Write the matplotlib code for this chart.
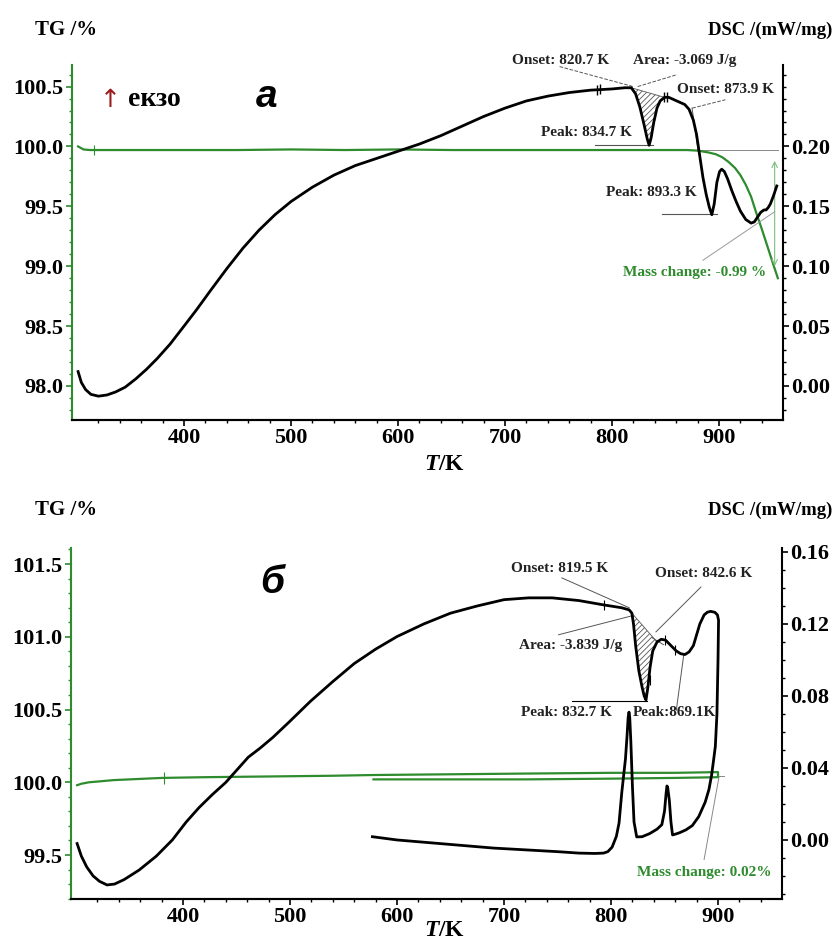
import numpy as np
import matplotlib
matplotlib.use('Agg')
import matplotlib.pyplot as plt
from matplotlib.ticker import FixedLocator, MultipleLocator, FormatStrFormatter

plt.rcParams['font.family'] = ['Liberation Serif', 'DejaVu Sans']
plt.rcParams['font.weight'] = 'bold'
plt.rcParams['mathtext.fontset'] = 'custom'
plt.rcParams['mathtext.it'] = 'Liberation Serif:italic:bold'
plt.rcParams['mathtext.rm'] = 'Liberation Serif:bold'
plt.rcParams['hatch.linewidth'] = 0.6
plt.rcParams['hatch.color'] = '#555555'

GREEN = '#2e8b2e'
LGREEN = '#7fbf7f'
GRAY = '#555555'

# ---------------- data: panel a ----------------
top_dsc_T = [301, 304, 308, 313, 320, 328, 336, 345, 355, 365,
             375, 387, 400, 412, 425, 440, 455, 470, 485, 500,
             520, 540, 560, 580, 600, 620, 640, 660, 680, 700,
             720, 740, 760, 780, 800, 812, 818, 822, 826, 830,
             833, 834.7, 836.5, 839, 842, 845, 849, 853, 858, 863,
             868, 872, 876, 879, 882, 885, 888, 891, 893.3, 895.5,
             898, 900.5, 902.5, 905, 908, 912, 916, 920, 925, 930,
             933, 936, 939, 942, 944, 946, 948, 951, 954]
top_dsc = [0.012, 0.003, -0.003, -0.007, -0.0085, -0.0075, -0.005, -0.001, 0.006, 0.014,
           0.023, 0.035, 0.050, 0.064, 0.080, 0.098, 0.115, 0.130, 0.143, 0.154,
           0.166, 0.176, 0.184, 0.190, 0.196, 0.202, 0.209, 0.217, 0.225, 0.232,
           0.238, 0.242, 0.245, 0.247, 0.248, 0.249, 0.249, 0.244, 0.233, 0.218,
           0.206, 0.201, 0.207, 0.220, 0.232, 0.238, 0.241, 0.241, 0.239, 0.237,
           0.235, 0.231, 0.222, 0.210, 0.192, 0.174, 0.160, 0.149, 0.143, 0.152,
           0.170, 0.179, 0.181, 0.179, 0.173, 0.163, 0.154, 0.146, 0.139, 0.136,
           0.137, 0.141, 0.145, 0.147, 0.147, 0.149, 0.152, 0.159, 0.167]
top_tg_T = [301, 303, 306, 312, 350, 400, 450, 500, 550, 600,
            650, 700, 750, 800, 850, 870, 880, 890, 897, 903,
            909, 915, 920, 925, 930, 935, 940, 944, 948, 952, 955]
top_tg = [100.0, 99.99, 99.975, 99.97, 99.97, 99.97, 99.97, 99.975, 99.97, 99.975,
          99.97, 99.97, 99.97, 99.97, 99.97, 99.97, 99.965, 99.95, 99.935, 99.91,
          99.87, 99.82, 99.76, 99.68, 99.58, 99.44, 99.31, 99.2, 99.09, 98.98, 98.9]

# ---------------- data: panel б ----------------
bot_heat_T = [301, 305, 310, 316, 322, 329, 336, 345, 359, 375,
              390, 403, 415, 427, 440, 452, 461, 472, 484, 500,
              519, 540, 560, 580, 600, 625, 650, 675, 700, 723,
              745, 770, 793, 810, 817, 819.5, 821, 823, 826, 829,
              831, 832.7, 834.5, 836.5, 839, 843, 847, 851, 856, 861,
              865, 869.1, 873, 877, 880, 883, 887, 890, 893, 897,
              899.5, 900.5]
bot_heat_dsc = [-0.002, -0.009, -0.015, -0.020, -0.023, -0.025, -0.0245, -0.022, -0.0167, -0.009,
                0.000, 0.010, 0.018, 0.025, 0.032, 0.040, 0.046, 0.051, 0.057, 0.066,
                0.077, 0.088, 0.098, 0.106, 0.113, 0.120, 0.126, 0.130, 0.1335, 0.1345,
                0.1345, 0.133, 0.1306, 0.129, 0.1278, 0.126, 0.120, 0.108, 0.094, 0.085,
                0.080, 0.0778, 0.085, 0.096, 0.105, 0.110, 0.1115, 0.111, 0.108, 0.105,
                0.1035, 0.103, 0.1045, 0.108, 0.114, 0.120, 0.125, 0.1265, 0.127, 0.1265,
                0.125, 0.122]
bot_cool_T = [900, 899, 897.5, 896, 894, 891.5, 888, 882, 876, 870,
              864, 860, 857.5, 856, 854.5, 853, 852.3, 851.5, 850, 847.5,
              843, 836, 829, 824, 821.5, 820, 818.5, 817.5, 816.8, 816,
              815, 813.5, 812, 810, 807.5, 805, 801, 797, 793, 785,
              770, 750, 720, 690, 660, 630, 600, 577]
bot_cool_dsc = [0.100, 0.070, 0.052, 0.045, 0.036, 0.028, 0.021, 0.013, 0.008, 0.0056,
                0.0040, 0.0032, 0.0028, 0.010, 0.022, 0.029, 0.030, 0.026, 0.016, 0.0085,
                0.0060, 0.0035, 0.0018, 0.0017, 0.010, 0.030, 0.055, 0.068, 0.071, 0.068,
                0.058, 0.045, 0.037, 0.026, 0.0094, 0.002, -0.004, -0.0065, -0.0073, -0.0075,
                -0.0073, -0.0065, -0.0055, -0.0045, -0.003, -0.0015, 0.0000, 0.0018]
bot_tg_heat_T = [301, 305, 312, 320, 335, 350, 380, 420, 480, 540, 578, 650, 720, 800, 860, 900]
bot_tg_heat = [99.98, 99.99, 100.0, 100.005, 100.015, 100.02, 100.03, 100.035, 100.04, 100.045,
               100.05, 100.055, 100.06, 100.065, 100.065, 100.07]
bot_tg_cool_T = [900, 860, 800, 720, 650, 578]
bot_tg_cool = [100.035, 100.03, 100.025, 100.02, 100.02, 100.02]

x_major = [400, 500, 600, 700, 800, 900]
top_tg_ticks = [98.0, 98.5, 99.0, 99.5, 100.0, 100.5]
top_dsc_ticks = [0.00, 0.05, 0.10, 0.15, 0.20]
bot_tg_ticks = [99.5, 100.0, 100.5, 101.0, 101.5]
bot_dsc_ticks = [0.00, 0.04, 0.08, 0.12, 0.16]

XLIM = (295.3, 959.8)
TICKFS = 16

fig = plt.figure(figsize=(8.34, 9.5), dpi=100)


def make_panel(rect, tg_lim, dsc_lim, tg_ticks, dsc_ticks):
    ax = fig.add_axes(rect)
    ax2 = ax.twinx()
    ax.set_xlim(*XLIM)
    ax.set_ylim(*tg_lim)
    ax2.set_ylim(*dsc_lim)
    for s in ['top', 'right']:
        ax.spines[s].set_visible(False)
    ax.spines['left'].set_color(GREEN)
    ax.spines['left'].set_linewidth(1.5)
    ax.spines['bottom'].set_linewidth(1.5)
    for s in ['top', 'left']:
        ax2.spines[s].set_visible(False)
    ax2.spines['right'].set_linewidth(1.5)
    ax2.spines['bottom'].set_linewidth(1.5)
    ax.xaxis.set_major_locator(FixedLocator(x_major))
    ax.xaxis.set_minor_locator(FixedLocator(list(range(320, 960, 20))))
    ax.yaxis.set_major_locator(FixedLocator(tg_ticks))
    ax.yaxis.set_minor_locator(MultipleLocator(0.1))
    ax.yaxis.set_major_formatter(FormatStrFormatter('%.1f'))
    ax2.yaxis.set_major_locator(FixedLocator(dsc_ticks))
    ax2.yaxis.set_minor_locator(MultipleLocator(0.01))
    ax2.yaxis.set_major_formatter(FormatStrFormatter('%.2f'))
    ax.tick_params(axis='x', which='major', length=4, width=1.2, labelsize=TICKFS, pad=2)
    ax.tick_params(axis='x', which='minor', length=2.5, width=1.0)
    ax.tick_params(axis='y', which='major', length=4, width=1.2, color=GREEN, labelsize=TICKFS, pad=2)
    ax.tick_params(axis='y', which='minor', length=2.5, width=1.0, color=GREEN)
    ax2.tick_params(axis='y', which='major', length=4, width=1.2, labelsize=TICKFS, pad=2)
    ax2.tick_params(axis='y', which='minor', length=2.5, width=1.0)
    return ax, ax2


ANN = dict(fontsize=11, fontweight='bold', color='#222222', ha='center', va='center')

# ================= panel a =================
axa, axa2 = make_panel([72/834, 1-420/950, 711/834, 355/950],
                       (97.716, 100.68), (-0.0284, 0.268), top_tg_ticks, top_dsc_ticks)
axa.plot(top_tg_T, top_tg, color=GREEN, lw=1.6, zorder=3)
axa2.plot(top_dsc_T, top_dsc, color='black', lw=2.0, zorder=4)

# hatched area
tT = np.array(top_dsc_T)
tD = np.array(top_dsc)
m = (tT >= 818) & (tT <= 849)
base = np.interp(tT[m], [818, 849], [0.249, 0.241])
axa2.fill_between(tT[m], tD[m], base, facecolor='none', hatch='//////', edgecolor=GRAY, lw=0)
axa2.plot([818, 849], [0.249, 0.241], color=GRAY, lw=0.6)

# leaders
axa2.plot([751, 819.6], [0.2667, 0.250], color=GRAY, lw=0.7, ls='--', clip_on=False)
axa2.plot([824, 861], [0.250, 0.260], color=GRAY, lw=0.7, ls='--', clip_on=False)
axa2.plot([875, 906], [0.232, 0.239], color=GRAY, lw=0.7, ls='--')
axa2.plot([874.8, 880.4], [0.232, 0.197], color=GRAY, lw=0.7)
axa2.plot([784, 838], [0.201, 0.201], color=GRAY, lw=0.8)
axa2.plot([847, 898], [0.144, 0.144], color=GRAY, lw=0.8)
axa2.plot([885, 952], [0.105, 0.1455], color='#999999', lw=0.7)
axa.plot([873, 955], [99.97, 99.97], color='#888888', lw=0.7)
axa.annotate('', xy=(952, 99.0), xytext=(952, 99.88),
             arrowprops=dict(arrowstyle='<->', color=LGREEN, lw=0.8, shrinkA=0, shrinkB=0))
axa2.plot([786, 788.5], [0.2475, 0.2477], ls='none', marker='|', ms=7, mew=1, color='black', zorder=5)
axa2.plot([848.5, 851], [0.241, 0.241], ls='none', marker='|', ms=7, mew=1, color='black', zorder=5)
axa.plot([316], [99.97], ls='none', marker='|', ms=7, mew=0.8, color=GREEN)

axa2.text(752, 0.272, 'Onset: 820.7 K', clip_on=False, **ANN)
axa2.text(868, 0.272, 'Area: -3.069 J/g', clip_on=False, **ANN)
axa2.text(905.6, 0.2475, 'Onset: 873.9 K', **ANN)
axa2.text(775.7, 0.2115, 'Peak: 834.7 K', **ANN)
axa2.text(836.4, 0.1614, 'Peak: 893.3 K', **ANN)
axa2.text(877.6, 0.0945, 'Mass change: -0.99 %', fontsize=11, fontweight='bold',
          color=GREEN, ha='center', va='center')

# ================= panel б =================
axb, axb2 = make_panel([71/834, 1-899/950, 711/834, 351/950],
                       (99.198, 101.61), (-0.0328, 0.1622), bot_tg_ticks, bot_dsc_ticks)
axb.plot(bot_tg_heat_T + bot_tg_cool_T, bot_tg_heat + bot_tg_cool, color=GREEN, lw=1.6, zorder=3)
axb2.plot(bot_heat_T + bot_cool_T, bot_heat_dsc + bot_cool_dsc, color='black', lw=2.0, zorder=4)

bT = np.array(bot_heat_T)
bD = np.array(bot_heat_dsc)
m = (bT >= 819.5) & (bT <= 843)
base = np.interp(bT[m], [819.5, 843], [0.126, 0.110])
axb2.fill_between(bT[m], bD[m], base, facecolor='none', hatch='//////', edgecolor=GRAY, lw=0)
axb2.plot([819.5, 843], [0.126, 0.110], color=GRAY, lw=0.6)

axb2.plot([754, 817], [0.1456, 0.129], color=GRAY, lw=0.7)
axb2.plot([751, 818.7], [0.114, 0.1244], color=GRAY, lw=0.7)
axb2.plot([884, 842], [0.1405, 0.1156], color=GRAY, lw=0.7)
axb2.plot([838, 849], [0.1125, 0.1085], color=GRAY, lw=0.7)
axb2.plot([764, 834], [0.0772, 0.0772], color='black', lw=0.8)
axb2.plot([868, 861], [0.103, 0.072], color=GRAY, lw=0.7)
axb.plot([887, 901], [99.47, 100.04], color='#888888', lw=0.7)
axb.plot([898, 906], [100.045, 100.045], color='#888888', lw=0.7)
axb.plot([382], [100.03], ls='none', marker='|', ms=8, mew=0.8, color=GREEN)
axb2.plot([793, 836, 850, 860], [0.1306, 0.089, 0.111, 0.1055], ls='none', marker='|',
          ms=7, mew=0.8, color='black', zorder=5)

axb2.text(752, 0.151, 'Onset: 819.5 K', **ANN)
axb2.text(762, 0.108, 'Area: -3.839 J/g', **ANN)
axb2.text(887, 0.148, 'Onset: 842.6 K', **ANN)
axb2.text(758, 0.0706, 'Peak: 832.7 K', **ANN)
axb2.text(859, 0.0706, 'Peak:869.1K', **ANN)
axb.text(887, 99.38, 'Mass change: 0.02%', fontsize=11, fontweight='bold',
         color=GREEN, ha='center', va='center')

# ================= figure texts =================
for ytop in (30, 510):
    fig.text(35/834, 1-ytop/950, 'TG /%', fontsize=15, fontweight='bold', ha='left', va='center')
    fig.text(832/834, 1-ytop/950, 'DSC /(mW/mg)', fontsize=13.5, fontweight='bold', ha='right', va='center')
fig.text(445/834, 1-465/950, r'$T$/K', fontsize=17, fontweight='bold', ha='center', va='center')
fig.text(445/834, 1-930/950, r'$T$/K', fontsize=17, fontweight='bold', ha='center', va='center')
fig.text(110/834, 1-100/950, '\u2191', fontsize=18, color='#9b1c1c', fontweight='normal',
         family='DejaVu Sans', ha='center', va='center')
fig.text(128/834, 1-100/950, 'екзо', fontsize=20, fontweight='bold', ha='left', va='center')
fig.text(267/834, 1-97/950, 'а', fontsize=28, fontweight='bold', style='italic',
         family='Liberation Sans', ha='center', va='center')
fig.text(272/834, 1-583/950, 'б', fontsize=28, fontweight='bold', style='italic',
         family='Liberation Sans', ha='center', va='center')

fig.savefig('out.png', dpi=100)
